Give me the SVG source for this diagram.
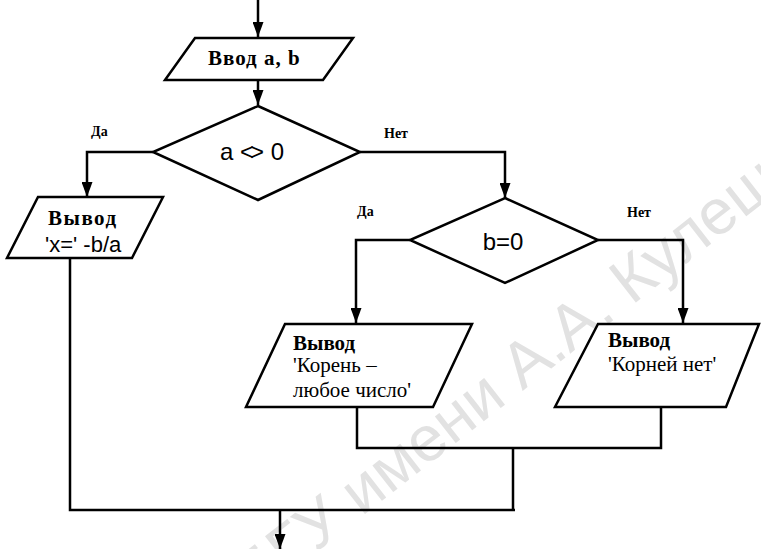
<svg xmlns="http://www.w3.org/2000/svg" width="761" height="549" viewBox="0 0 761 549">
<defs>
<marker id="arr" viewBox="0 0 15 11" refX="15" refY="5.5" markerWidth="15" markerHeight="11" markerUnits="userSpaceOnUse" orient="auto">
<path d="M0,0 L15,5.5 L0,11 Z" fill="#000"/>
</marker>
<style>
.shape{fill:#fff;stroke:#000;stroke-width:2.5;stroke-linejoin:miter}
.line{fill:none;stroke:#000;stroke-width:2.5}
.lbl{font-family:"Liberation Serif",serif;font-weight:bold;font-size:14px;fill:#000}
.hd{font-family:"Liberation Serif",serif;font-weight:bold;font-size:21px;fill:#000}
.ser{font-family:"Liberation Serif",serif;font-size:21px;fill:#000}
.san{font-family:"Liberation Sans",Arial,sans-serif;font-size:22px;fill:#000}
.cond{font-family:"Liberation Sans",Arial,sans-serif;font-size:24px;fill:#000}
.wm{font-family:"Liberation Sans",Arial,sans-serif;font-size:64px;fill:#e2e2e2}
</style>
</defs>
<rect width="761" height="549" fill="#fff"/>
<text class="wm" transform="translate(255,600) rotate(-38)">БГУ имени А.А. Кулешова</text>
<g id="connectors">
<path class="line" d="M258,0 V37" marker-end="url(#arr)"/>
<path class="line" d="M258,80 V105" marker-end="url(#arr)"/>
<path class="line" d="M153,152 H87 V197" marker-end="url(#arr)"/>
<path class="line" d="M360,152 H505 V198" marker-end="url(#arr)"/>
<path class="line" d="M410,240 H356 V323" marker-end="url(#arr)"/>
<path class="line" d="M598,240 H683 V323" marker-end="url(#arr)"/>
<path class="line" d="M70,258 V510 H515"/>
<path class="line" d="M357,407 V448 H661 V407"/>
<path class="line" d="M513,448 V510"/>
<path class="line" d="M280,510 V549" marker-end="url(#arr)"/>
<text class="lbl" x="91" y="136">Да</text>
<text class="lbl" x="384" y="138">Нет</text>
<text class="lbl" x="357" y="216">Да</text>
<text class="lbl" x="627" y="217">Нет</text>
</g>
<g id="input">
<polygon class="shape" points="195,38 353,38 323,80 165,80"/>
<text class="hd" x="208" y="65" font-size="22" letter-spacing="1">Ввод  a, b</text>
</g>
<g id="cond1">
<polygon class="shape" points="258,106 360,152 258,200 153,152"/>
<text class="cond" x="220" y="160">a <tspan letter-spacing="-4">&lt;</tspan>&gt; 0</text>
</g>
<g id="out-x">
<polygon class="shape" points="38,197 163,197 132,258 7,258"/>
<text class="hd" x="48" y="225" letter-spacing="1.5">Вывод</text>
<text class="san" x="45" y="252">'x=' -b/a</text>
</g>
<g id="cond2">
<polygon class="shape" points="505,198 598,240 505,283 410,240"/>
<text class="cond" x="503" y="250" text-anchor="middle">b=0</text>
</g>
<g id="out-any">
<polygon class="shape" points="285,324 472,324 433,407 246,407"/>
<text class="hd" x="293" y="350">Вывод</text>
<text class="ser" x="293" y="372">'Корень –</text>
<text class="ser" x="293" y="397">любое число'</text>
</g>
<g id="out-none">
<polygon class="shape" points="598,324 759,324 726,407 555,407"/>
<text class="hd" x="608" y="347" font-size="20">Вывод</text>
<text class="ser" x="608" y="371" font-size="19">'Корней нет'</text>
</g>
</svg>
